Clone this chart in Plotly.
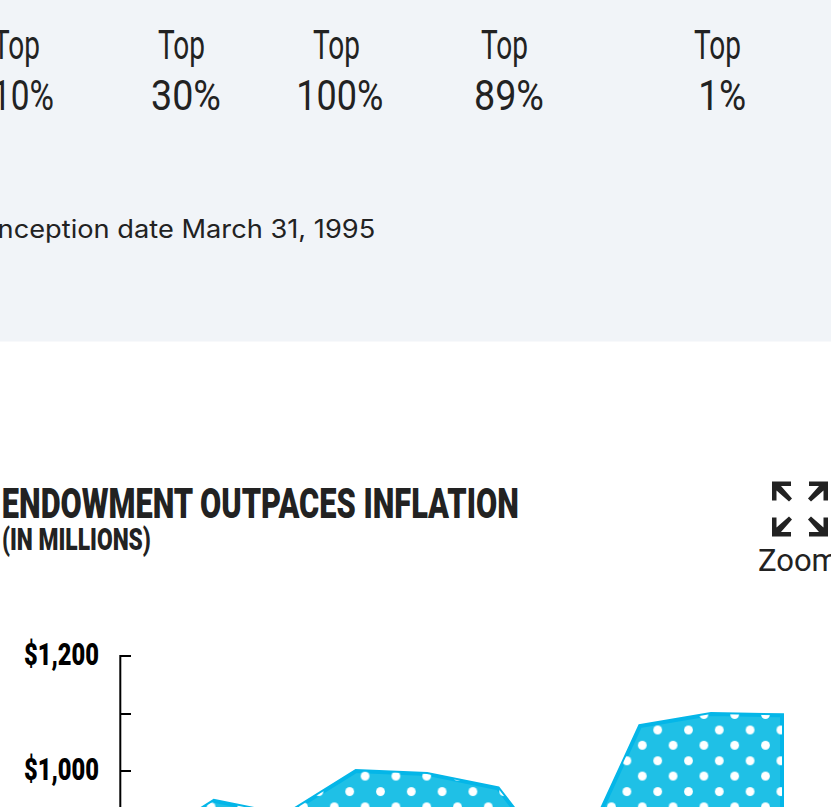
import json
import plotly.graph_objects as go

# ---- data ----
years = [2012, 2013, 2014, 2015, 2016, 2017, 2018, 2019, 2020, 2021]
endowment = [870, 948, 923, 1000, 995, 970, 810, 1078, 1099, 1097]
y_ticks = [1000, 1100, 1200]
y_tick_labels = ["$1,000", "", "$1,200"]
rank_heads = ["Top", "Top", "Top", "Top", "Top"]
rank_values = ["10%", "30%", "100%", "89%", "1%"]
note = "Inception date March 31, 1995"
title = "ENDOWMENT OUTPACES INFLATION"
subtitle = "(IN MILLIONS)"

W, H = 831, 807
COND = "Roboto"
INK = "#222222"
px_per_year = 71.0
px_per_dollar = 0.575
x_last_px = 782.0
y_1000_px = 771.0


def x_range(left, right):
    return [years[-1] + (left - x_last_px) / px_per_year,
            years[-1] + (right - x_last_px) / px_per_year]


def y_range(top, bottom):
    return [1000 + (y_1000_px - bottom) / px_per_dollar,
            1000 + (y_1000_px - top) / px_per_dollar]


def axis_pair(left, right, top, bottom):
    xa = dict(domain=[left / W, right / W], range=x_range(left, right), visible=False, fixedrange=True)
    ya = dict(domain=[1 - bottom / H, 1 - top / H], range=y_range(top, bottom), visible=False, fixedrange=True)
    return xa, ya


RIGHT = 784.0
xa1, ya1 = axis_pair(120, RIGHT, 653, H)
xa2, ya2 = axis_pair(118.7, RIGHT, 653, H)
xa3, ya3 = axis_pair(134.1, RIGHT, 668.3, H)

fig = go.Figure()
DOT = 30.8
SOL = 0.064
fig.add_trace(go.Scatter(x=years, y=endowment, mode="none", fill="tozeroy", fillcolor="#1fc0e6",
                         hoverinfo="skip", showlegend=False, xaxis="x", yaxis="y"))
for xref, yref in (("x2", "y2"), ("x3", "y3")):
    fig.add_trace(go.Scatter(x=years, y=endowment, mode="none", fill="tozeroy",
                             fillcolor="rgba(0,0,0,0)",
                             fillpattern=dict(shape=".", size=DOT, solidity=SOL, fgcolor="#ffffff",
                                              bgcolor="rgba(0,0,0,0)", fgopacity=1),
                             hoverinfo="skip", showlegend=False, xaxis=xref, yaxis=yref))
fig.add_trace(go.Scatter(x=years + [years[-1]], y=endowment + [0], mode="lines",
                         line=dict(color="#04b6e8", width=4, shape="linear"),
                         hoverinfo="skip", showlegend=False, xaxis="x", yaxis="y"))

ann = []
fit_widths = []


def text(cx, y, s, size, fit=None, family=COND, weight="normal", color=INK):
    ann.append(dict(x=cx / W, y=1 - y / H, xref="paper", yref="paper", text=s, showarrow=False,
                    xanchor="center", yanchor="middle", align="center",
                    font=dict(family=family, size=size, weight=weight, color=color)))
    fit_widths.append(fit)


head_centers = [16, 181.5, 336.5, 504.5, 717.5]
value_centers = [23, 186, 340, 509, 721.5]
value_fits = [62, 70, 87, 70, 48]
for h, v, hc, vc, vf in zip(rank_heads, rank_values, head_centers, value_centers, value_fits):
    text(hc, 45, h, 41, fit=47, weight=400)
    text(vc, 95, v, 42, fit=vf, weight=400)
text(183, 229, note, 25, fit=385, family="Inter")
text(260.5, 503, title, 43, fit=517, weight=900)
text(76.5, 539, subtitle, 31, fit=149, weight=900)
text(798, 560, "Zoom", 31, family="Roboto")

shapes = [dict(type="rect", xref="paper", yref="paper", x0=0, x1=1, y0=1 - 341.5 / H, y1=1,
               fillcolor="#f1f4f8", line=dict(width=0), layer="below"),
          dict(type="line", xref="paper", yref="paper", x0=120.3 / W, x1=120.3 / W, y0=0, y1=1 - 655 / H,
               line=dict(color="#000000", width=2))]


def arrow(cx, cy, sx, sy):
    def P(a, b):
        return f"{(cx + sx * a) / W:.5f},{1 - (cy + sy * b) / H:.5f}"
    path = ("M" + P(0, 0) + " L" + P(19, 0) + " L" + P(19, 4.5) + " L" + P(9, 4.5) + " L" + P(20, 17)
            + " L" + P(17, 20) + " L" + P(4.5, 9) + " L" + P(4.5, 19) + " L" + P(0, 19) + " Z")
    return dict(type="path", xref="paper", yref="paper", path=path, fillcolor=INK, line=dict(width=0))


shapes += [arrow(772, 481.5, 1, 1), arrow(828, 481.5, -1, 1), arrow(772, 536.5, 1, -1), arrow(828, 536.5, -1, -1)]

y_axis = dict(ya1)
y_axis.update(visible=True, showgrid=False, zeroline=False, showline=False,
              ticks="inside", ticklen=11, tickwidth=2, tickcolor="#000000",
              tickmode="array", tickvals=y_ticks, ticktext=y_tick_labels,
              tickfont=dict(family=COND, size=31, weight=900, color="#000000"),
              ticklabelstandoff=20)

fig.update_layout(
    width=W, height=H, autosize=False,
    margin=dict(l=0, r=0, t=0, b=0, pad=0, autoexpand=False),
    paper_bgcolor="#ffffff", plot_bgcolor="rgba(0,0,0,0)",
    showlegend=False,
    xaxis=xa1, yaxis=y_axis,
    xaxis2=dict(xa2, anchor="y2"), yaxis2=dict(ya2, anchor="x2"),
    xaxis3=dict(xa3, anchor="y3"), yaxis3=dict(ya3, anchor="x3"),
    annotations=ann, shapes=shapes,
)

post = """
document.documentElement.style.margin='0';
document.body.style.margin='0';
document.body.style.overflow='hidden';
var gd=document.getElementById('{plot_id}');
gd.style.position='fixed';gd.style.left='0';gd.style.top='0';
var fits=%s;
gd.querySelectorAll('.annotation-text').forEach(function(t,i){
  if(fits[i]){t.setAttribute('textLength',fits[i]);t.setAttribute('lengthAdjust','spacingAndGlyphs');}
});
gd.querySelectorAll('.ytick text').forEach(function(t){
  if(t.textContent){t.setAttribute('textLength',75);t.setAttribute('lengthAdjust','spacingAndGlyphs');t.setAttribute('dy','-1.5');}
});
""" % json.dumps(fit_widths)

fig.write_html("out.html", config=dict(displayModeBar=False), post_script=post)
